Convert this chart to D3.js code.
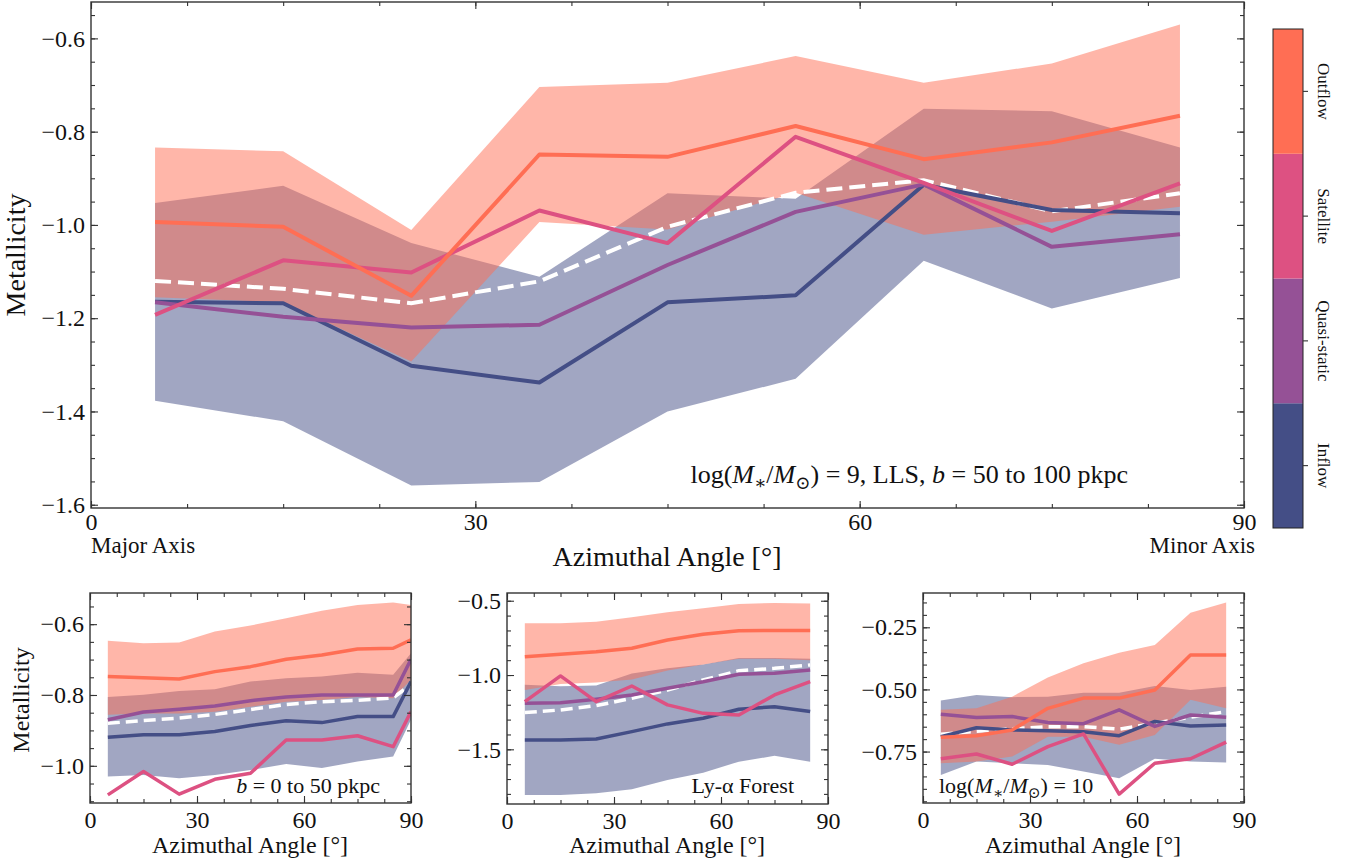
<!DOCTYPE html>
<html>
<head>
<meta charset="utf-8">
<script src="https://cdn.jsdelivr.net/npm/d3@7"></script>
<style>
body { margin: 0; background: #fff; }
svg text { font-family: "Liberation Serif", "DejaVu Serif", serif; fill: #111; }
</style>
</head>
<body>
<svg id="chart" width="1363" height="866"></svg>
<script>
// gas origin categories, bottom to top on the colour bar
var kinds = ["Inflow", "Quasi-static", "Satellite", "Outflow"];
var kindColors = ["#444e86", "#955196", "#dd5182", "#ff6e54"];

var angles = [5, 15, 25, 35, 45, 55, 65, 75, 85];
var anglesB = [5, 15, 25, 35, 45, 55, 65, 75, 85, 90];

var xTicks = [0, 30, 60, 90];

// main panel: log M* = 9, LLS, b = 50 to 100 pkpc
var mainAll = [-1.120, -1.137, -1.168, -1.121, -1.004, -0.931, -0.904, -0.971, -0.932];
var mainInflow = [-1.165, -1.168, -1.302, -1.338, -1.166, -1.151, -0.914, -0.968, -0.975];
var mainInflowLo = [-1.377, -1.421, -1.559, -1.551, -1.400, -1.330, -1.077, -1.179, -1.114];
var mainInflowHi = [-0.953, -0.916, -1.039, -1.111, -0.932, -0.944, -0.751, -0.756, -0.834];
var mainQuasi = [-1.166, -1.197, -1.220, -1.214, -1.086, -0.972, -0.913, -1.047, -1.020];
var mainSatellite = [-1.193, -1.076, -1.102, -0.969, -1.039, -0.811, -0.910, -1.013, -0.911];
var mainOutflow = [-0.994, -1.004, -1.152, -0.849, -0.854, -0.788, -0.859, -0.823, -0.766];
var mainOutflowLo = [-1.155, -1.166, -1.293, -0.994, -1.010, -0.931, -1.021, -0.993, -0.961];
var mainOutflowHi = [-0.834, -0.842, -1.011, -0.704, -0.695, -0.638, -0.695, -0.654, -0.570];
var mainYTicks = [-1.6, -1.4, -1.2, -1.0, -0.8, -0.6];

// lower left: b = 0 to 50 pkpc
var p1All = [-0.880, -0.872, -0.865, -0.855, -0.841, -0.827, -0.819, -0.815, -0.808, -0.770];
var p1Inflow = [-0.919, -0.912, -0.912, -0.903, -0.886, -0.873, -0.878, -0.861, -0.861, -0.762];
var p1InflowLo = [-1.030, -1.026, -1.035, -1.026, -1.012, -0.995, -1.006, -0.988, -0.974, -0.870];
var p1InflowHi = [-0.806, -0.799, -0.789, -0.784, -0.762, -0.753, -0.748, -0.737, -0.743, -0.682];
var p1Quasi = [-0.870, -0.848, -0.840, -0.831, -0.816, -0.806, -0.800, -0.800, -0.800, -0.699];
var p1Satellite = [-1.082, -1.016, -1.080, -1.038, -1.021, -0.927, -0.927, -0.915, -0.946, -0.847];
var p1Outflow = [-0.748, -0.751, -0.755, -0.734, -0.720, -0.699, -0.687, -0.670, -0.668, -0.644];
var p1OutflowLo = [-0.856, -0.852, -0.852, -0.847, -0.833, -0.819, -0.814, -0.806, -0.809, -0.757];
var p1OutflowHi = [-0.647, -0.654, -0.652, -0.621, -0.604, -0.583, -0.562, -0.546, -0.539, -0.546];
var p1YTicks = [-1.0, -0.8, -0.6];

// lower middle: Ly-alpha forest
var p2All = [-1.253, -1.235, -1.206, -1.157, -1.101, -1.033, -0.971, -0.955, -0.932];
var p2Inflow = [-1.437, -1.437, -1.430, -1.381, -1.329, -1.291, -1.230, -1.213, -1.246];
var p2InflowLo = [-1.807, -1.807, -1.795, -1.768, -1.706, -1.657, -1.583, -1.544, -1.583];
var p2InflowHi = [-1.065, -1.075, -1.070, -0.990, -0.955, -0.930, -0.885, -0.885, -0.890];
var p2Quasi = [-1.190, -1.187, -1.163, -1.134, -1.089, -1.045, -0.995, -0.988, -0.966];
var p2Satellite = [-1.179, -1.006, -1.179, -1.074, -1.201, -1.258, -1.269, -1.134, -1.045];
var p2Outflow = [-0.877, -0.860, -0.843, -0.820, -0.764, -0.726, -0.702, -0.700, -0.700];
var p2OutflowLo = [-1.100, -1.060, -1.050, -1.030, -0.970, -0.930, -0.890, -0.890, -0.900];
var p2OutflowHi = [-0.652, -0.652, -0.641, -0.612, -0.578, -0.551, -0.522, -0.515, -0.519];
var p2YTicks = [-1.5, -1.0, -0.5];

// lower right: log M* = 10
var p3All = [-0.680, -0.668, -0.658, -0.650, -0.650, -0.660, -0.636, -0.612, -0.589];
var p3Inflow = [-0.690, -0.654, -0.663, -0.666, -0.670, -0.686, -0.629, -0.647, -0.643];
var p3InflowLo = [-0.844, -0.790, -0.797, -0.804, -0.830, -0.857, -0.779, -0.790, -0.794];
var p3InflowHi = [-0.545, -0.522, -0.531, -0.529, -0.513, -0.513, -0.486, -0.502, -0.489];
var p3Quasi = [-0.600, -0.613, -0.609, -0.633, -0.638, -0.582, -0.649, -0.603, -0.612];
var p3Satellite = [-0.779, -0.760, -0.801, -0.730, -0.679, -0.921, -0.797, -0.779, -0.712];
var p3Outflow = [-0.692, -0.686, -0.663, -0.576, -0.535, -0.535, -0.502, -0.361, -0.361];
var p3OutflowLo = [-0.797, -0.790, -0.770, -0.690, -0.690, -0.723, -0.683, -0.542, -0.576];
var p3OutflowHi = [-0.582, -0.576, -0.529, -0.452, -0.395, -0.352, -0.321, -0.191, -0.150];
var p3YTicks = [-0.75, -0.50, -0.25];

var svg = d3.select("#chart");
var spineColor = "#333";

// writes simple "math" text: parts are [string, "" | "i" | "sub"]
function mathText(sel, parts, size) {
    var shifted = false;
    parts.forEach(function(p) {
        var t = sel.append("tspan").text(p[0]);
        if (p[1] == "sub") {
            t.attr("font-size", size * 0.7).attr("dy", size * 0.22);
            shifted = true;
        } else {
            if (shifted) { t.attr("dy", -size * 0.22); shifted = false; }
            if (p[1] == "i") t.attr("font-style", "italic");
        }
    });
}

function drawPanel(p) {
    var x = d3.scaleLinear().domain([0, 90]).range([p.left, p.right]);
    var y = d3.scaleLinear().domain(p.ydom).range([p.bottom, p.top]);

    svg.append("clipPath").attr("id", "clip" + p.name)
        .append("rect")
        .attr("x", p.left).attr("y", p.top)
        .attr("width", p.right - p.left).attr("height", p.bottom - p.top);

    var plot = svg.append("g").attr("clip-path", "url(#clip" + p.name + ")");

    var area = d3.area()
        .x(function(d) { return x(d[0]); })
        .y0(function(d) { return y(d[1]); })
        .y1(function(d) { return y(d[2]); });
    var line = d3.line()
        .x(function(d) { return x(d[0]); })
        .y(function(d) { return y(d[1]); });

    // spread bands: inflow then outflow, both half transparent
    plot.append("path")
        .datum(d3.zip(p.angles, p.inflowLo, p.inflowHi))
        .attr("d", area)
        .style("fill", kindColors[0]).style("fill-opacity", 0.5);
    plot.append("path")
        .datum(d3.zip(p.angles, p.outflowLo, p.outflowHi))
        .attr("d", area)
        .style("fill", kindColors[3]).style("fill-opacity", 0.5);

    plot.append("path")
        .datum(d3.zip(p.angles, p.all))
        .attr("d", line)
        .style("fill", "none").style("stroke", "#fff")
        .style("stroke-width", p.lw).style("stroke-dasharray", p.dash);

    [p.inflow, p.quasi, p.satellite, p.outflow].forEach(function(vals, i) {
        plot.append("path")
            .datum(d3.zip(p.angles, vals))
            .attr("d", line)
            .style("fill", "none").style("stroke", kindColors[i])
            .style("stroke-width", p.lw).style("stroke-linejoin", "round");
    });

    // ticks on all four sides, pointing in
    var xMinor = d3.range(0, 90.1, 7.5);
    var yMinor = [];
    var first = Math.ceil(p.ydom[0] / p.ystep - 1e-6);
    for (var k = first; k * p.ystep <= p.ydom[1]; k++) yMinor.push(k * p.ystep);

    function styleAxis(g) {
        g.select(".domain").remove();
        g.attr("font-family", null).attr("font-size", p.tickFont).style("color", spineColor);
        g.selectAll("line").style("stroke-width", 1.1);
    }

    svg.append("g").attr("transform", "translate(0," + p.bottom + ")")
        .call(d3.axisBottom(x).tickValues(xMinor).tickSize(-4).tickFormat("")).call(styleAxis);
    svg.append("g").attr("transform", "translate(0," + p.top + ")")
        .call(d3.axisTop(x).tickValues(xMinor).tickSize(-4).tickFormat("")).call(styleAxis);
    svg.append("g").attr("transform", "translate(" + p.left + ",0)")
        .call(d3.axisLeft(y).tickValues(yMinor).tickSize(-4).tickFormat("")).call(styleAxis);
    svg.append("g").attr("transform", "translate(" + p.right + ",0)")
        .call(d3.axisRight(y).tickValues(yMinor).tickSize(-4).tickFormat("")).call(styleAxis);

    svg.append("g").attr("transform", "translate(0," + p.bottom + ")")
        .call(d3.axisBottom(x).tickValues(xTicks).tickSize(-7).tickPadding(p.xpad).tickFormat(d3.format("d")))
        .call(styleAxis);
    svg.append("g").attr("transform", "translate(0," + p.top + ")")
        .call(d3.axisTop(x).tickValues(xTicks).tickSize(-7).tickFormat("")).call(styleAxis);
    svg.append("g").attr("transform", "translate(" + p.left + ",0)")
        .call(d3.axisLeft(y).tickValues(p.yticks).tickSize(-7).tickPadding(6).tickFormat(d3.format(p.fmt)))
        .call(styleAxis);
    svg.append("g").attr("transform", "translate(" + p.right + ",0)")
        .call(d3.axisRight(y).tickValues(p.yticks).tickSize(-7).tickFormat("")).call(styleAxis);

    svg.selectAll("g.tick text").style("fill", "#111");

    svg.append("rect")
        .attr("x", p.left).attr("y", p.top)
        .attr("width", p.right - p.left).attr("height", p.bottom - p.top)
        .style("fill", "none").style("stroke", spineColor).style("stroke-width", 1.4);

    return { x: x, y: y };
}

drawPanel({
    name: "main", left: 91, right: 1244, top: 2, bottom: 508,
    ydom: [-1.607, -0.522], yticks: mainYTicks, ystep: 0.05, fmt: ".1f",
    angles: angles, all: mainAll, inflow: mainInflow, quasi: mainQuasi,
    satellite: mainSatellite, outflow: mainOutflow,
    inflowLo: mainInflowLo, inflowHi: mainInflowHi,
    outflowLo: mainOutflowLo, outflowHi: mainOutflowHi,
    lw: 4, dash: "16,7", tickFont: 24, xpad: 5
});
drawPanel({
    name: "p1", left: 90, right: 411, top: 593, bottom: 803,
    ydom: [-1.105, -0.512], yticks: p1YTicks, ystep: 0.05, fmt: ".1f",
    angles: anglesB, all: p1All, inflow: p1Inflow, quasi: p1Quasi,
    satellite: p1Satellite, outflow: p1Outflow,
    inflowLo: p1InflowLo, inflowHi: p1InflowHi,
    outflowLo: p1OutflowLo, outflowHi: p1OutflowHi,
    lw: 3.5, dash: "12,6", tickFont: 24, xpad: 8
});
drawPanel({
    name: "p2", left: 507, right: 828, top: 593, bottom: 804,
    ydom: [-1.868, -0.448], yticks: p2YTicks, ystep: 0.1, fmt: ".1f",
    angles: angles, all: p2All, inflow: p2Inflow, quasi: p2Quasi,
    satellite: p2Satellite, outflow: p2Outflow,
    inflowLo: p2InflowLo, inflowHi: p2InflowHi,
    outflowLo: p2OutflowLo, outflowHi: p2OutflowHi,
    lw: 3.5, dash: "12,6", tickFont: 24, xpad: 8
});
drawPanel({
    name: "p3", left: 923, right: 1244, top: 593, bottom: 803,
    ydom: [-0.957, -0.112], yticks: p3YTicks, ystep: 0.05, fmt: ".2f",
    angles: angles, all: p3All, inflow: p3Inflow, quasi: p3Quasi,
    satellite: p3Satellite, outflow: p3Outflow,
    inflowLo: p3InflowLo, inflowHi: p3InflowHi,
    outflowLo: p3OutflowLo, outflowHi: p3OutflowHi,
    lw: 3.5, dash: "12,6", tickFont: 24, xpad: 8
});

// axis titles and notes
svg.append("text").attr("x", 667).attr("y", 566).attr("text-anchor", "middle")
    .attr("font-size", 28).text("Azimuthal Angle [°]");
svg.append("text").attr("transform", "translate(25,255) rotate(-90)").attr("text-anchor", "middle")
    .attr("font-size", 28).text("Metallicity");
svg.append("text").attr("x", 91).attr("y", 553).attr("font-size", 23).text("Major Axis");
svg.append("text").attr("x", 1255).attr("y", 553).attr("text-anchor", "end")
    .attr("font-size", 23).text("Minor Axis");

mathText(svg.append("text").attr("x", 1128).attr("y", 483).attr("text-anchor", "end").attr("font-size", 26),
    [["log(", ""], ["M", "i"], ["∗", "sub"], ["/", ""], ["M", "i"], ["⊙", "sub"],
     [") = 9, LLS, ", ""], ["b", "i"], [" = 50 to 100 pkpc", ""]], 26);

svg.append("text").attr("transform", "translate(29,700) rotate(-90)").attr("text-anchor", "middle")
    .attr("font-size", 24).text("Metallicity");
[250, 667, 1083].forEach(function(cx) {
    svg.append("text").attr("x", cx).attr("y", 853).attr("text-anchor", "middle")
        .attr("font-size", 24).text("Azimuthal Angle [°]");
});

mathText(svg.append("text").attr("x", 380).attr("y", 793).attr("text-anchor", "end").attr("font-size", 22),
    [["b", "i"], [" = 0 to 50 pkpc", ""]], 22);
svg.append("text").attr("x", 794).attr("y", 793).attr("text-anchor", "end")
    .attr("font-size", 22).text("Ly-α Forest");
mathText(svg.append("text").attr("x", 939).attr("y", 793).attr("font-size", 22),
    [["log(", ""], ["M", "i"], ["∗", "sub"], ["/", ""], ["M", "i"], ["⊙", "sub"], [") = 10", ""]], 22);

// discrete colour bar
var cb = d3.scaleBand().domain(kinds.slice().reverse()).range([29, 528]);
var cbar = svg.append("g");
cbar.selectAll("rect.seg")
    .data(kinds)
    .enter().append("rect")
    .attr("class", "seg")
    .attr("x", 1273).attr("width", 30)
    .attr("y", function(d) { return cb(d); })
    .attr("height", cb.bandwidth())
    .style("fill", function(d, i) { return kindColors[i]; });
cbar.append("rect").attr("x", 1273).attr("y", 29).attr("width", 30).attr("height", 499)
    .style("fill", "none").style("stroke", "#222").style("stroke-width", 1);
cbar.selectAll("line.cbtick")
    .data(kinds)
    .enter().append("line")
    .attr("x1", 1303).attr("x2", 1308)
    .attr("y1", function(d) { return cb(d) + cb.bandwidth() / 2; })
    .attr("y2", function(d) { return cb(d) + cb.bandwidth() / 2; })
    .style("stroke", spineColor).style("stroke-width", 1.1);
cbar.selectAll("text.cblabel")
    .data(kinds)
    .enter().append("text")
    .attr("class", "cblabel")
    .attr("text-anchor", "middle")
    .attr("font-size", 17)
    .attr("transform", function(d) {
        return "translate(1318," + (cb(d) + cb.bandwidth() / 2) + ") rotate(90)";
    })
    .text(function(d) { return d; });
</script>
</body>
</html>
